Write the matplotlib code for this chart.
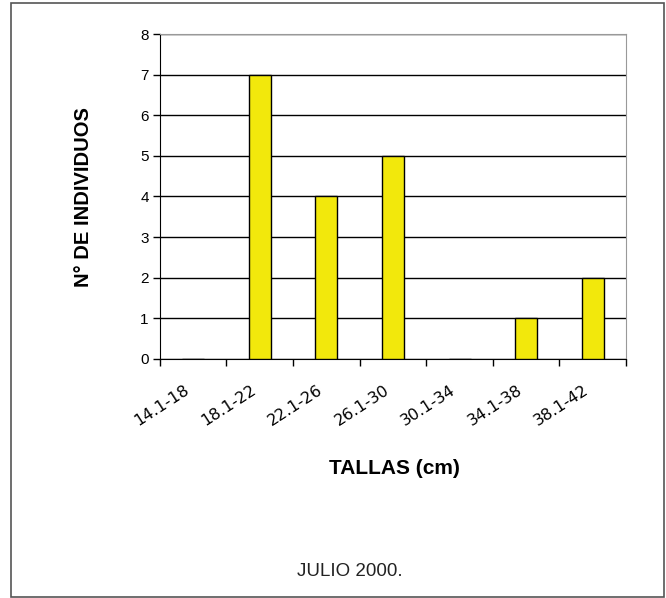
import matplotlib.pyplot as plt
import numpy as np
from matplotlib.patches import Rectangle

# Datos de tallas
tallas = ['14.1-18', '18.1-22', '22.1-26', '26.1-30', '30.1-34', '34.1-38', '38.1-42']
individuos = [0, 7, 4, 5, 0, 1, 2]

plt.rcParams['font.family'] = ['Liberation Sans', 'DejaVu Sans']

fig = plt.figure(figsize=(6.66, 5.98), dpi=100)
ax = fig.add_axes([0.240, 0.400, 0.700, 0.543])

x = np.arange(len(tallas))
ax.bar(x, individuos, width=0.33, color='#F2E80C', edgecolor='black',
       linewidth=1.0, zorder=3)

ax.set_xlim(-0.5, len(tallas) - 0.5)
ax.set_ylim(0, 8)
ax.set_yticks(range(0, 9))
ax.tick_params(axis='y', labelsize=11, length=5, width=1, direction='out', pad=3)

# marcas en los limites de cada clase, etiquetas algo a la izquierda del centro
ax.set_xticks(np.arange(-0.5, len(tallas)), minor=False)
ax.set_xticklabels([])
ax.set_xticks(x - 0.14, minor=True)
ax.set_xticklabels(tallas, minor=True, rotation=33, ha='right', va='top',
                   rotation_mode='anchor', fontsize=11.5, family='DejaVu Sans')
ax.tick_params(axis='x', which='major', length=5, width=1, direction='out')
ax.tick_params(axis='x', which='minor', length=0, pad=17)

ax.grid(axis='y', color='black', linewidth=1.0, zorder=0)
ax.set_axisbelow(True)
for lado in ['top', 'right']:
    ax.spines[lado].set_color('#999999')
for lado in ['left', 'bottom']:
    ax.spines[lado].set_color('black')

fig.text(0.126, 0.671, 'N° DE INDIVIDUOS', rotation=90, ha='center', va='center',
         fontsize=14.5, fontweight='bold')
fig.text(0.592, 0.216, 'TALLAS (cm)', ha='center', va='center',
         fontsize=15, fontweight='bold')
fig.text(0.5255, 0.045, 'JULIO 2000.', ha='center', va='center', fontsize=13.5,
         color='#222222')

# marco exterior del grafico
fig.patches.append(Rectangle((11 / 666, 1 / 598), 653 / 666, 594 / 598,
                             transform=fig.transFigure, fill=False,
                             edgecolor='#555555', linewidth=1.2))

fig.savefig('out.png', dpi=100, facecolor='white')
